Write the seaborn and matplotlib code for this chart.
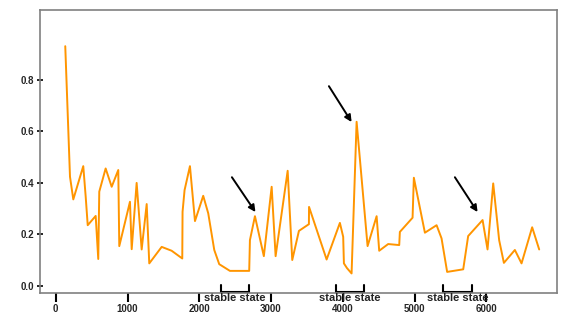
import matplotlib
matplotlib.use("Agg")
import matplotlib.pyplot as plt
import matplotlib.transforms as mtransforms
import seaborn as sns
import pandas as pd

# series
steps = [132, 198, 244, 383, 417, 445, 556, 592, 606, 695, 779, 871, 885,
         1034, 1058, 1127, 1197, 1267, 1303, 1476, 1615, 1763, 1767, 1795,
         1870, 1940, 2055, 2125, 2209, 2278, 2427, 2696, 2706, 2776, 2900,
         3009, 3064, 3232, 3296, 3389, 3528, 3530, 3775, 3960, 4006, 4016,
         4058, 4123, 4193, 4346, 4472, 4508, 4633, 4787, 4796, 4973, 4991,
         5145, 5308, 5377, 5455, 5679, 5748, 5949, 6018, 6097, 6180, 6246,
         6399, 6492, 6640, 6738]
values = [0.930, 0.424, 0.336, 0.465, 0.346, 0.236, 0.272, 0.105, 0.366,
          0.456, 0.385, 0.450, 0.155, 0.327, 0.143, 0.400, 0.142, 0.318,
          0.088, 0.152, 0.137, 0.107, 0.288, 0.372, 0.465, 0.252, 0.350,
          0.282, 0.140, 0.085, 0.059, 0.059, 0.178, 0.271, 0.116, 0.385,
          0.116, 0.447, 0.101, 0.214, 0.240, 0.307, 0.103, 0.245, 0.191,
          0.088, 0.070, 0.049, 0.637, 0.155, 0.271, 0.137, 0.163, 0.159,
          0.210, 0.265, 0.420, 0.207, 0.236, 0.185, 0.055, 0.065, 0.194,
          0.256, 0.142, 0.398, 0.178, 0.090, 0.140, 0.088, 0.228, 0.142]

x_ticks = [0, 1000, 2000, 3000, 4000, 5000, 6000]
y_ticks = [0.0, 0.2, 0.4, 0.6, 0.8]

# stable state spans (start, end)
stable_spans = [(2300, 2700), (3900, 4300), (5400, 5800)]
# arrows (from, to)
arrows = [((2455, 0.422), (2783, 0.287)),
          ((3807, 0.775), (4123, 0.636)),
          ((5563, 0.422), (5879, 0.287))]

df = pd.DataFrame({"step": steps, "value": values})

sns.set_style("white")
plt.rcParams["font.family"] = ["Liberation Sans", "DejaVu Sans"]

fig = plt.figure(figsize=(5.84, 3.25), dpi=100)
ax = fig.add_axes([0.0685, 0.0975, 0.8845, 0.8715])

sns.lineplot(data=df, x="step", y="value", ax=ax, color="#ff9500",
             linewidth=1.4, sort=False)

ax.set_xlim(-220, 6980)
ax.set_ylim(-0.028, 1.07)
ax.set_xlabel("")
ax.set_ylabel("")

ax.set_xticks(x_ticks)
ax.set_xticklabels([str(t) for t in x_ticks], fontsize=7, fontweight="bold")
ax.set_yticks(y_ticks)
ax.set_yticklabels([f"{t:.1f}" for t in y_ticks], fontsize=7, fontweight="bold")
ax.tick_params(axis="x", direction="out", length=6.5, width=1.5,
               color="black", pad=1.5, bottom=True)
ax.tick_params(axis="y", direction="inout", length=4, width=1.2,
               color="black", pad=2, left=True)

for s in ax.spines.values():
    s.set_color("#808080")
    s.set_linewidth(1.2)

trans = mtransforms.blended_transform_factory(ax.transData, ax.transAxes)
for a, b in stable_spans:
    ax.plot([a, a, b, b], [0.028, 0.003, 0.003, 0.028], color="black",
            lw=1.5, transform=trans, clip_on=False, solid_joinstyle="miter")
    ax.text((a + b) / 2, -0.016, "stable state", transform=trans,
            ha="center", va="center", fontsize=8, fontweight="bold",
            color="#222222", clip_on=False)

for (x0, y0), (x1, y1) in arrows:
    ax.annotate("", xy=(x1, y1), xytext=(x0, y0),
                arrowprops=dict(arrowstyle="-|>", color="black", lw=1.4,
                                mutation_scale=10, shrinkA=0, shrinkB=0))

fig.savefig("out.png", dpi=100)
